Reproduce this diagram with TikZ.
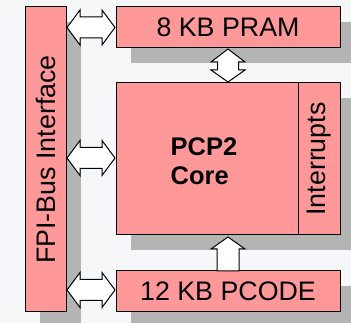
\documentclass[tikz,border=0pt]{standalone}
\usepackage{fontspec}
\setmainfont{Liberation Sans}
\usetikzlibrary{calc,positioning,shadows}
\definecolor{blockpink}{HTML}{FF9999}
\definecolor{shadowgray}{HTML}{B4B4B4}
\definecolor{paper}{HTML}{F6F7F9}

\tikzset{
  block/.style={draw,line width=1pt,fill=blockpink,inner sep=0pt,outer sep=0pt,
    font=\fontsize{26.8}{30}\selectfont,
    drop shadow={shadow xshift=15pt,shadow yshift=-15pt,fill=shadowgray,opacity=1}},
  blockarrow/.style={draw,line width=1pt,fill=white,line join=miter}
}

% double arrow, left tip #1, right tip #2
\newcommand{\hdarrow}[2]{%
  \draw[blockarrow] (#1) -- ($(#1)+(13,-17.5)$) -- ($(#1)+(13,-10.5)$)
    -- ($(#2)+(-13,-10.5)$) -- ($(#2)+(-13,-17.5)$) -- (#2)
    -- ($(#2)+(-13,17.5)$) -- ($(#2)+(-13,10.5)$)
    -- ($(#1)+(13,10.5)$) -- ($(#1)+(13,17.5)$) -- cycle;}
% double arrow, top tip #1, bottom tip #2
\newcommand{\vdarrow}[2]{%
  \draw[blockarrow] (#1) -- ($(#1)+(17,13)$) -- ($(#1)+(10.5,13)$)
    -- ($(#2)+(10.5,-12)$) -- ($(#2)+(17,-12)$) -- (#2)
    -- ($(#2)+(-17,-12)$) -- ($(#2)+(-10.5,-12)$)
    -- ($(#1)+(-10.5,13)$) -- ($(#1)+(-17,13)$) -- cycle;}
% single arrow, base #1, tip #2 above it
\newcommand{\uparrowblock}[2]{%
  \draw[blockarrow] ($(#1)+(-11,0)$) -- ($(#2)+(-11,12)$) -- ($(#2)+(-17,12)$)
    -- (#2) -- ($(#2)+(17,12)$) -- ($(#2)+(11,12)$) -- ($(#1)+(11,0)$) -- cycle;}

\begin{document}
\begin{tikzpicture}[x=1pt,y=-1pt]
  \fill[paper] (0,0) rectangle (351,323);
  \useasboundingbox (0,0) rectangle (351,323);

  % blocks
  \node[block,minimum width=41,minimum height=305] (fpi) at (45.5,159.5)
    {\rotatebox{90}{FPI-Bus Interface}};
  \node[block,minimum width=224,minimum height=41] (pram) at (228,27.5) {8 KB PRAM};
  \node[block,minimum width=182,minimum height=152] (core) at (207,159) {};
  \node[block,minimum width=42,minimum height=152,right=0pt of core] (irq)
    {\rotatebox{90}{Interrupts}};
  \node[block,minimum width=224,minimum height=41] (pcode) at (228,291.5) {12 KB PCODE};
  \node[font=\bfseries\fontsize{25.5}{29}\selectfont,align=left] (corelabel)
    at ($(core.center)+(-3,2)$) {PCP2\\Core};

  % arrows
  \coordinate (fpipram) at (fpi.east |- pram.west);
  \coordinate (fpicore) at (fpi.east |- core.west);
  \coordinate (fpipcode) at (fpi.east |- pcode.west);
  \coordinate (coretop) at (pram.south |- core.north);
  \coordinate (corebot) at ($(pcode.north |- core.south)+(0,2)$);
  \hdarrow{$(fpipram)+(1,0)$}{$(pram.west)+(-1,0)$}
  \hdarrow{$(fpicore)+(1,-1)$}{$(core.west)+(-1,-1)$}
  \hdarrow{$(fpipcode)+(1,-1.5)$}{$(pcode.west)+(-1,-1.5)$}
  \vdarrow{$(pram.south)+(0,1)$}{$(coretop)+(0,-1)$}
  \uparrowblock{pcode.north}{corebot}
\end{tikzpicture}
\end{document}
